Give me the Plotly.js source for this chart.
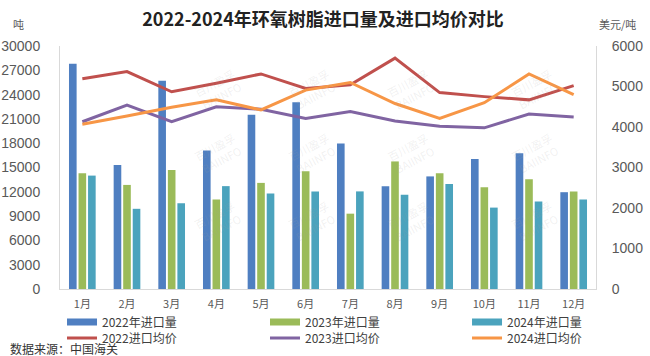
<!DOCTYPE html>
<html>
<head>
<meta charset="utf-8">
<script src="https://cdn.plot.ly/plotly-3.0.1.min.js"></script>
<style>html,body{margin:0;padding:0;background:#fff;}#chart{width:650px;height:356px;}</style>
</head>
<body>
<div id="chart"></div>
<script>
const months = ["1月","2月","3月","4月","5月","6月","7月","8月","9月","10月","11月","12月"];
const vol2022 = [27800,15300,25700,17100,21500,23050,17950,12700,13900,16050,16750,11950];
const vol2023 = [14300,12850,14700,11050,13100,14550,9300,15750,14300,12550,13550,12050];
const vol2024 = [14000,9900,10600,12700,11800,12050,12050,11650,12950,10050,10800,11050];
const price2022 = [5190,5370,4870,5080,5310,4950,5040,5700,4850,4750,4670,5020];
const price2023 = [4130,4540,4130,4500,4440,4210,4380,4150,4020,3980,4320,4250];
const price2024 = [4070,4270,4490,4670,4420,4910,5100,4580,4210,4600,5310,4800];

const volNames = ["2022年进口量","2023年进口量","2024年进口量"];
const priceNames = ["2022进口均价","2023进口均价","2024进口均价"];
const barColors = ["#4F7FC1","#9BBB59","#4BA3BD"];
const lineColors = ["#C0504D","#8064A2","#F79646"];

const font = "'Liberation Sans', 'Noto Sans CJK SC', sans-serif";
const vols = [vol2022, vol2023, vol2024];
const prices = [price2022, price2023, price2024];

const legendIds = ["legend","legend2","legend3","legend4","legend5","legend6"];

const traces = [];
vols.forEach((v,i)=>{
  traces.push({type:"bar", x:months, y:v, name:volNames[i], marker:{color:barColors[i]},
    showlegend:false, legendgroup:"v"+i, hoverinfo:"y"});
});
prices.forEach((p,i)=>{
  traces.push({type:"scatter", mode:"lines", x:months, y:p, yaxis:"y2", name:priceNames[i],
    line:{color:lineColors[i], width:3}, showlegend:false, legendgroup:"p"+i});
});
// legend entries (wide swatches like the reference), one legend box per entry
vols.forEach((v,i)=>{
  traces.push({type:"scatter", mode:"lines", x:[null], y:[null], name:volNames[i],
    line:{color:barColors[i], width:7}, legendgroup:"v"+i, legend:legendIds[i]});
});
prices.forEach((p,i)=>{
  traces.push({type:"scatter", mode:"lines", x:[null], y:[null], yaxis:"y2", name:priceNames[i],
    line:{color:lineColors[i], width:3}, legendgroup:"p"+i, legend:legendIds[i+3]});
});

const legendBase = {orientation:"h", xref:"container", yref:"container", xanchor:"left", yanchor:"middle",
  itemwidth:30, tracegroupgap:0, bgcolor:"rgba(0,0,0,0)",
  font:{size:12, family:"'Noto Sans CJK SC', sans-serif", color:"#404040"}};
const colX = [0.0954, 0.4077, 0.7185];
const rowY = [0.0955, 0.0506];

const annotations = [
  {text:"吨", xref:"paper", yref:"paper", x:-0.078, y:1.13, showarrow:false, xanchor:"center",
    font:{size:11, family:"'Noto Sans CJK SC', sans-serif"}},
  {text:"美元/吨", xref:"paper", yref:"paper", x:1.04, y:1.13, showarrow:false, xanchor:"center",
    font:{size:11, family:"'Noto Sans CJK SC', sans-serif"}},
  {text:"数据来源：中国海关", xref:"paper", yref:"paper", x:-0.097, y:-0.245, xanchor:"left", yanchor:"middle",
    showarrow:false, font:{size:12, family:"'Noto Sans CJK SC', sans-serif", color:"#333"}}
];
// faint watermark tiles
const wmX = [0.24, 0.47, 0.71, 0.94];
const wmY = [0.93, 0.56, 0.17];
wmY.forEach(yy=>wmX.forEach(xx=>{
  annotations.push({text:"百川盈孚<br>BAIINFO", xref:"paper", yref:"paper", x:xx, y:yy, showarrow:false,
    textangle:-28, font:{size:11, family:"'Noto Sans CJK SC', sans-serif", color:"rgba(160,160,160,0.16)"}});
}));

const layout = {
  width:650, height:356,
  margin:{l:60, r:54, t:46, b:67},
  paper_bgcolor:"#fff", plot_bgcolor:"#fff",
  font:{family:font, color:"#595959", size:13},
  title:{text:"<b>2022-2024年环氧树脂进口量及进口均价对比</b>", x:0.497, xanchor:"center", y:0.945, yanchor:"middle",
    font:{family:"'Noto Sans CJK SC', sans-serif", size:18, color:"#222"}},
  barmode:"group", bargap:0.36, bargroupgap:0.2,
  xaxis:{type:"category", showline:true, linecolor:"#D9D9D9", linewidth:1, ticks:"", showgrid:false,
    tickfont:{size:11, family:"'Noto Sans CJK SC', sans-serif"}, ticklabelstandoff:5},
  yaxis:{range:[0,30000], dtick:3000, tickformat:"d", showgrid:false, zeroline:false, showline:true, linecolor:"#D9D9D9",
    ticks:"outside", ticklen:16, tickcolor:"rgba(0,0,0,0)", tickfont:{size:14}},
  yaxis2:{overlaying:"y", side:"right", range:[0,6000], dtick:1000, tickformat:"d", showgrid:false, zeroline:false,
    showline:true, linecolor:"#D9D9D9", ticks:"outside", ticklen:12, tickcolor:"rgba(0,0,0,0)", tickfont:{size:14}},
  annotations: annotations
};
legendIds.forEach((id,k)=>{
  layout[id] = Object.assign({}, legendBase, {x:colX[k%3], y:rowY[Math.floor(k/3)]});
});

Plotly.newPlot("chart", traces, layout, {displayModeBar:false, staticPlot:true});
</script>
</body>
</html>
